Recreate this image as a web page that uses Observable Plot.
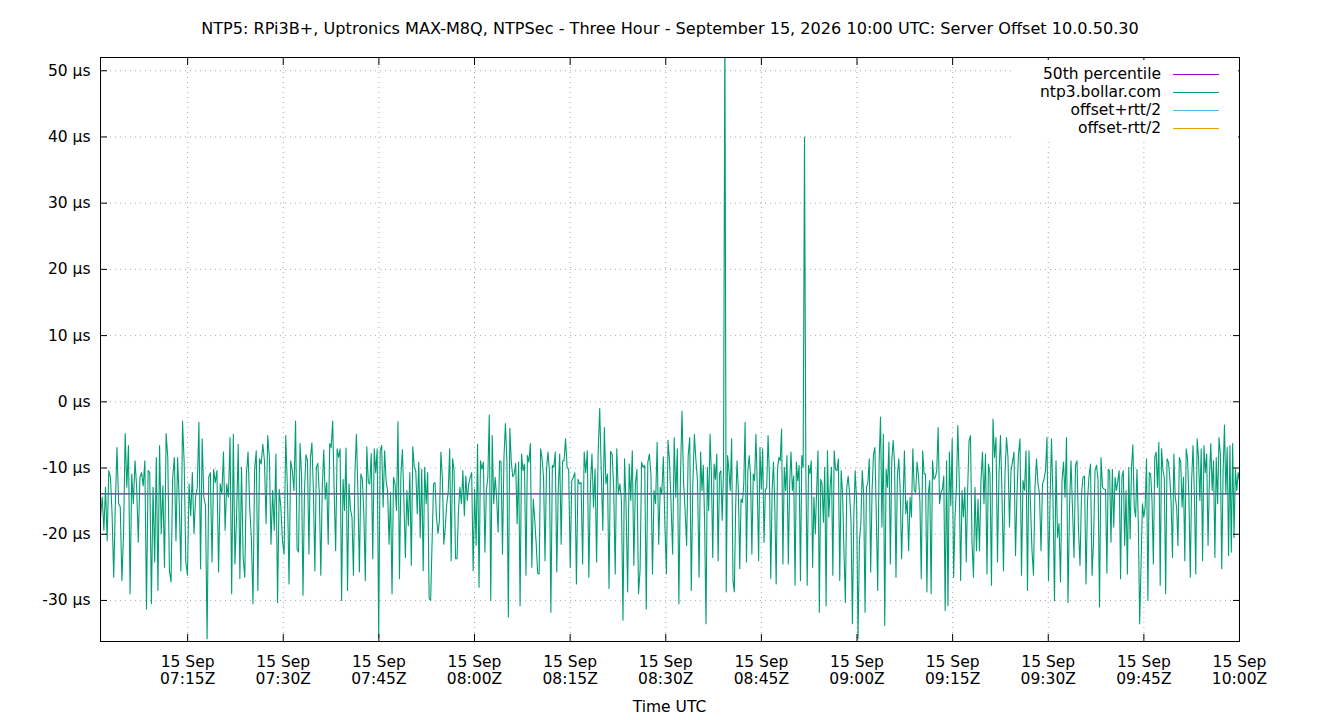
<!DOCTYPE html>
<html>
<head>
<meta charset="utf-8">
<script src="https://cdn.jsdelivr.net/npm/d3@7"></script>
<script src="https://cdn.jsdelivr.net/npm/@observablehq/plot@0.6"></script>
<style>
  body { margin: 0; background: #fff; }
  #wrap { position: relative; width: 1340px; height: 720px; font-family: "DejaVu Sans", sans-serif; color: #000; }
  #title { position: absolute; left: 0; top: 19px; width: 1340px; text-align: center; font-size: 16.1px; line-height: 20px; }
  #xlabel { position: absolute; left: 0; top: 697px; width: 1339px; text-align: center; font-size: 15.5px; line-height: 20px; }
  #legend { position: absolute; left: 1012px; top: 60px; width: 226px; height: 78px; background: #fff; font-size: 15.5px; }
  .lrow { position: absolute; left: 0; width: 226px; height: 18px; }
  .ltext { position: absolute; right: 77px; top: 0; line-height: 18px; white-space: nowrap; }
  .lline { position: absolute; left: 161px; top: 9px; width: 46px; height: 1px; }
</style>
</head>
<body>
<div id="wrap">
  <div id="chart"></div>
  <div id="title"></div>
  <div id="xlabel"></div>
  <div id="legend"></div>
</div>
<script>
const titleText = "NTP5: RPi3B+, Uptronics MAX-M8Q, NTPSec - Three Hour - September 15, 2026 10:00 UTC: Server Offset 10.0.50.30";
const xAxisLabel = "Time UTC";
const day = "2026-09-15";
const domainStart = "07:01:20";
const domainEnd = "10:00:00";
const yDomain = [-36.2, 52];
const yTicks = [-30, -20, -10, 0, 10, 20, 30, 40, 50];
const xTickTimes = ["07:15","07:30","07:45","08:00","08:15","08:30","08:45","09:00","09:15","09:30","09:45","10:00"];
const percentile50 = -13.9;

const legendNames = ["50th percentile", "ntp3.bollar.com", "offset+rtt/2", "offset-rtt/2"];
const legendColors = ["#9400d3", "#009e73", "#56b4e9", "#e69f00"];

// segment boundaries (UTC) for the offset readings below
const segmentBounds = ["07:01:21","07:31:56","07:53:07","08:14:17","08:35:28","08:56:38","09:17:48","09:38:59","10:00:00"];

// ntp3.bollar.com offset, µs
const offsetsA = [-17.4,-14.4,-19.4,-12.9,-21.0,-10.4,-11.4,-16.9,-26.5,-15.4,-6.9,-15.4,-15.9,-27.0,-19.9,-4.8,-12.9,-6.6,-29.0,-10.9,-15.4,-8.9,-12.9,-21.2,-11.4,-10.7,-12.7,-8.9,-31.3,-10.4,-10.7,-30.5,-12.9,-24.2,-8.4,-28.5,-6.6,-19.9,-12.7,-25.0,-4.8,-8.4,-25.5,-27.2,-11.4,-8.4,-21.0,-8.4,-15.2,-25.5,-2.9,-9.1,-24.2,-26.2,-12.4,-17.2,-10.7,-19.9,-14.4,-12.9,-3.1,-25.2,-5.6,-14.4,-15.7,-35.8,-11.4,-10.7,-24.2,-10.2,-12.2,-10.4,-25.7,-12.4,-13.9,-7.6,-19.4,-12.4,-14.4,-5.4,-29.0,-4.9,-24.5,-17.4,-6.4,-26.7,-9.9,-23.5,-26.5,-10.9,-7.6,-15.9,-20.5,-30.5,-10.2,-7.4,-28.5,-8.6,-9.4,-6.4,-8.9,-18.4,-5.1,-8.4,-21.5,-13.4,-19.4,-7.9,-30.3,-13.2,-15.9,-21.0,-23.0,-5.1,-12.9,-27.5,-8.9,-10.4,-13.4];
const offsetsB = [-2.9,-22.2,-22.7,-6.3,-10.9,-29.2,-13.4,-8.0,-8.9,-23.0,-8.4,-6.2,-13.4,-25.5,-9.9,-9.3,-13.9,-26.2,-12.9,-7.3,-14.7,-12.2,-21.5,-6.3,-6.9,-2.9,-13.4,-22.5,-7.1,-8.4,-7.1,-30.0,-11.7,-16.4,-7.0,-28.5,-12.4,-16.2,-17.4,-26.2,-10.7,-4.9,-13.7,-25.7,-10.9,-11.7,-16.9,-27.0,-6.8,-12.2,-12.4,-7.8,-23.7,-7.1,-10.7,-7.1,-35.5,-7.4,-6.6,-15.9,-7.4,-11.9,-13.4,-21.5,-13.7,-29.0,-11.4,-12.4,-16.4,-3.0,-26.7,-10.9,-7.2,-14.9,-23.5,-13.4,-18.7,-10.7,-24.7,-6.8,-9.9,-10.4,-16.9,-9.1,-20.5,-10.2,-25.5,-9.9,-15.4,-10.7,-29.7];
const offsetsC = [-30.0,-21.2,-12.4,-12.2,-17.4,-19.9,-17.9,-7.6,-11.4,-21.5,-18.9,-15.4,-13.7,-7.1,-24.0,-8.6,-10.4,-23.7,-23.7,-16.4,-12.9,-15.4,-10.4,-17.2,-11.2,-14.9,-12.4,-11.4,-10.7,-25.5,-13.2,-21.7,-6.4,-28.0,-8.9,-10.2,-9.1,-22.7,-13.4,-11.4,-2.0,-30.0,-5.1,-15.4,-11.4,-14.4,-19.7,-8.9,-9.1,-23.0,-8.4,-3.3,-8.9,-32.5,-4.0,-9.1,-11.3,-10.9,-9.3,-18.4,-9.1,-30.8,-7.9,-10.4,-9.4,-26.2,-8.1,-9.1,-6.3,-25.0,-14.7,-17.9,-21.5,-25.9,-26.0,-7.1,-8.6,-11.4,-24.0,-10.2,-7.6,-10.4,-31.8,-9.6,-9.9,-7.6,-25.7,-13.4,-7.9,-21.5,-8.9,-8.9];
const offsetsD = [-5.6,-9.9,-10.2,-25.0,-11.9,-11.4,-10.7,-27.5,-11.7,-12.4,-12.2,-24.5,-7.6,-10.7,-7.4,-26.5,-12.7,-7.9,-15.9,-10.2,-24.2,-7.6,-1.0,-10.4,-19.4,-3.9,-12.4,-10.9,-28.2,-7.5,-7.9,-12.9,-26.0,-7.1,-13.9,-12.4,-14.9,-33.0,-8.6,-15.9,-28.7,-9.4,-14.9,-7.4,-24.7,-12.4,-10.2,-29.0,-25.5,-9.1,-9.9,-9.6,-31.3,-9.1,-7.9,-10.9,-26.0,-13.4,-15.4,-6.1,-21.5,-12.9,-13.9,-8.3,-18.7,-26.0,-5.8,-9.1,-15.7,-23.0,-5.4,-14.4,-7.1,-30.5,-11.7,-1.4,-11.9,-16.4,-21.7,-8.1,-5.4,-28.5,-12.4,-4.9,-8.9,-11.9,-26.5];
const offsetsE = [-7.6,-13.4,-9.6,-18.4,-33.5,-9.9,-16.4,-4.9,-10.9,-23.5,-9.4,-11.7,-7.9,-24.0,-10.9,-10.4,-17.9,-10.4,58,-28.7,-8.1,-10.4,-13.4,-5.6,-27.0,-28.7,-15.7,-8.9,-13.4,-25.2,-14.7,-15.2,-12.4,-3.1,-24.2,-10.4,-8.1,-11.2,-23.0,-10.9,-11.9,-4.9,-12.9,-24.0,-6.9,-13.2,-7.1,-21.2,-13.4,-12.9,-5.1,-11.4,-26.7,-13.4,-9.1,-15.7,-27.5,-10.2,-8.4,-8.9,-4.1,-24.5,-9.9,-13.4,-8.1,-24.5,-12.4,-7.6,-13.4,-11.2,-27.7,-9.1,-11.9,-9.6,-27.0,-8.1,-9.9,40,-10.4,-27.7,-9.6,-10.9,-8.9,-25.0,-14.4,-19.9,-13.4,-7.4,-31.8,-11.7,-12.4,-18.2,-9.9,-30.8,-7.4,-17.4,-12.9,-9.9,-26.2,-7.4];
const offsetsF = [-10.2,-10.4,-8.6,-27.0,-10.4,-13.9,-22.5,-30.3,-12.9,-11.2,-13.9,-17.9,-33.5,-17.4,-10.4,-15.2,-35.8,-21.0,-18.4,-10.4,-13.9,-31.8,-12.9,-12.2,-8.6,-25.7,-13.4,-7.9,-6.9,-17.2,-28.5,-9.1,-2.3,-18.9,-4.9,-33.8,-10.2,-12.9,-6.1,-24.5,-8.9,-5.8,-9.4,-26.5,-11.2,-8.6,-13.4,-23.7,-15.7,-7.4,-16.9,-14.9,-22.5,-14.4,-17.4,-7.1,-13.4,-13.7,-9.1,-11.2,-14.9,-26.7,-7.4,-10.9,-10.9,-28.7,-13.9,-11.9,-29.0,-8.9,-11.7,-11.4,-10.4,-3.9,-15.4,-13.7,-13.2,-11.2,-31.5,-8.9,-30.8,-7.6,-15.7,-5.6,-26.5,-17.4,-12.9,-3.6,-11.9,-27.0,-13.4,-17.4,-12.9,-24.2,-13.2,-5.9];
const offsetsG = [-5.1,-21.0,-26.5,-12.9,-22.5,-14.7,-22.5,-11.9,-7.6,-15.4,-7.9,-26.0,-9.4,-10.9,-27.7,-2.6,-8.4,-5.4,-24.2,-10.9,-5.1,-13.9,-25.5,-10.9,-5.4,-8.4,-18.9,-10.4,-9.1,-7.6,-23.2,-13.9,-7.9,-5.6,-26.2,-11.9,-13.4,-7.4,-28.5,-7.4,-15.4,-22.5,-26.2,-12.9,-8.6,-12.4,-13.9,-22.5,-12.4,-11.7,-10.4,-5.4,-27.0,-15.4,-5.6,-14.9,-30.0,-8.9,-20.5,-18.4,-27.2,-11.9,-9.1,-14.4,-5.4,-30.3,-15.9,-8.9,-16.2,-23.5,-9.6,-8.9,-19.4,-24.7,-13.9,-11.4,-11.2,-27.5,-14.9,-11.2,-9.4,-26.2,-21.2,-10.4,-9.6,-11.7,-31.0,-8.4,-12.9,-13.2];
const offsetsH = [-13.2,-25.9,-10.2,-10.4,-21.2,-10.2,-18.9,-11.4,-13.4,-11.9,-10.4,-26.7,-11.4,-10.4,-21.7,-13.4,-26.0,-9.9,-20.7,-9.9,-6.5,-15.9,-17.4,-10.2,-18.4,-33.5,-24.5,-15.4,-17.4,-15.9,-8.6,-30.0,-10.7,-10.9,-14.9,-24.5,-8.4,-7.6,-12.9,-6.1,-27.7,-7.1,-10.4,-11.4,-29.0,-8.6,-9.1,-11.4,-15.4,-23.5,-7.9,-14.4,-15.9,-21.7,-8.4,-9.1,-15.9,-11.4,-24.0,-7.1,-8.6,-14.4,-26.5,-11.9,-6.6,-13.9,-26.0,-5.6,-8.4,-14.9,-7.1,-24.0,-6.6,-10.7,-7.9,-21.7,-11.4,-6.3,-13.4,-8.9,-23.5,-8.4,-15.4,-5.4,-7.9,-25.2,-10.7,-3.5,-13.9,-6.9,-23.2,-6.6,-22.7,-6.3,-20.5,-10.2,-13.4,-10.7,-11.9];

const segments = [offsetsA, offsetsB, offsetsC, offsetsD, offsetsE, offsetsF, offsetsG, offsetsH];
const toDate = (hms) => new Date(`${day}T${hms.length === 5 ? hms + ":00" : hms}Z`);

const data = segments.flatMap((vals, s) => {
  const t0 = +toDate(segmentBounds[s]);
  const t1 = +toDate(segmentBounds[s + 1]);
  const last = s === segments.length - 1;
  const n = last ? vals.length - 1 : vals.length;
  return vals.map((v, i) => ({ time: new Date(t0 + (t1 - t0) * i / n), offset: v }));
});

const xTicks = xTickTimes.map(toDate);
const fmtX = (d) => `15 Sep\n${d3.utcFormat("%H:%M")(d)}Z`;
const gridStyle = { stroke: "#a8a8a8", strokeOpacity: 1, strokeWidth: 1, strokeDasharray: "1,4" };

const chart = Plot.plot({
  width: 1340,
  height: 720,
  marginLeft: 100,
  marginRight: 101,
  marginTop: 57,
  marginBottom: 79,
  style: { fontFamily: "DejaVu Sans, sans-serif", fontSize: "15.5px", color: "#000", background: "#fff", overflow: "visible" },
  x: { type: "utc", domain: [toDate(domainStart), toDate(domainEnd)] },
  y: { domain: yDomain },
  marks: [
    Plot.gridY(yTicks, gridStyle),
    Plot.gridX(xTicks, gridStyle),
    Plot.ruleY([percentile50], { stroke: "#6a1b8a", strokeWidth: 1.3 }),
    Plot.lineY(data, { x: "time", y: "offset", stroke: legendColors[1], strokeWidth: 1.1, clip: true }),
    Plot.axisY(yTicks, { anchor: "left", tickSize: -7, tickPadding: 17, tickFormat: (d) => `${d} µs`, label: null, stroke: "#000" }),
    Plot.axisY(yTicks, { anchor: "right", tickSize: -7, tickFormat: () => "", label: null }),
    Plot.axisX(xTicks, { anchor: "bottom", tickSize: -7, tickPadding: 20, tickFormat: fmtX, label: null, lineHeight: 1.1 }),
    Plot.axisX(xTicks, { anchor: "top", tickSize: -7, tickFormat: () => "", label: null }),
    Plot.frame({ stroke: "#000", strokeWidth: 1 })
  ]
});
document.getElementById("chart").appendChild(chart);
document.getElementById("title").textContent = titleText;
document.getElementById("xlabel").textContent = xAxisLabel;

const legend = document.getElementById("legend");
legendNames.forEach((name, i) => {
  const row = document.createElement("div");
  row.className = "lrow";
  row.style.top = `${5 + 18 * i}px`;
  const t = document.createElement("span");
  t.className = "ltext";
  t.textContent = name;
  const l = document.createElement("span");
  l.className = "lline";
  l.style.background = legendColors[i];
  row.appendChild(t);
  row.appendChild(l);
  legend.appendChild(row);
});
</script>
</body>
</html>
